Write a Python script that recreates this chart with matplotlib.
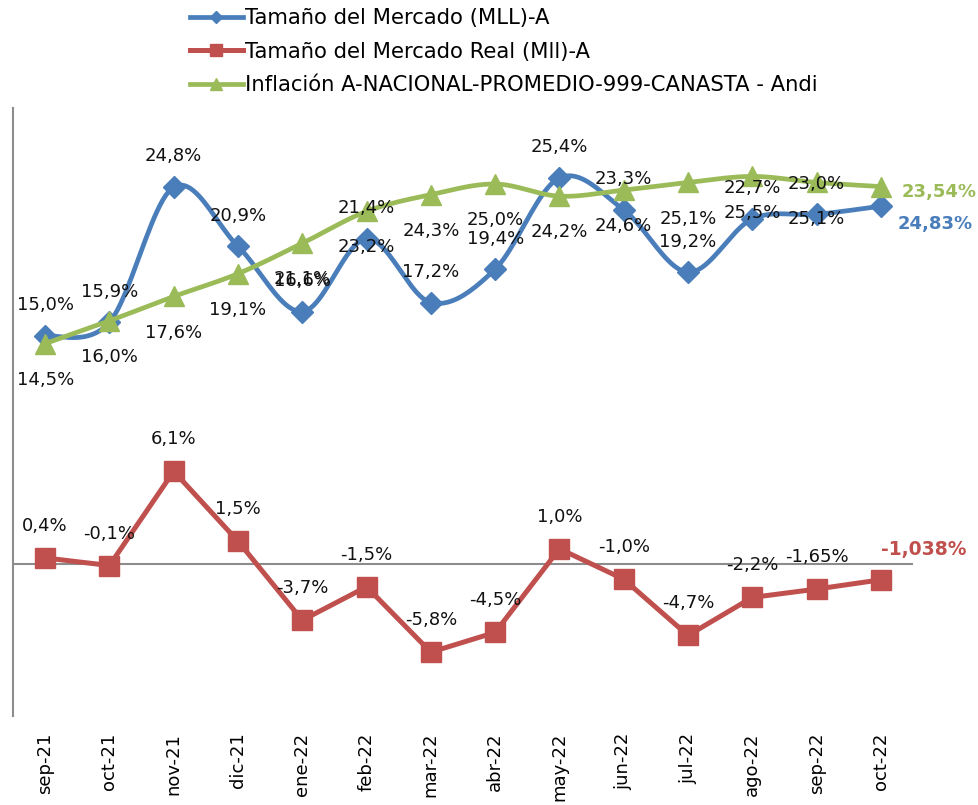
import numpy as np
import matplotlib
matplotlib.use("Agg")
import matplotlib.pyplot as plt

months = ["sep-21", "oct-21", "nov-21", "dic-21", "ene-22", "feb-22", "mar-22",
          "abr-22", "may-22", "jun-22", "jul-22", "ago-22", "sep-22", "oct-22"]

mercado = [15.0, 15.9, 24.8, 20.9, 16.6, 21.4, 17.2, 19.4, 25.4, 23.3, 19.2, 22.7, 23.0, 23.54]
real = [0.4, -0.1, 6.1, 1.5, -3.7, -1.5, -5.8, -4.5, 1.0, -1.0, -4.7, -2.2, -1.65, -1.038]
inflacion = [14.5, 16.0, 17.6, 19.1, 21.1, 23.2, 24.3, 25.0, 24.2, 24.6, 25.1, 25.5, 25.1, 24.83]

mercado_lbl = ["15,0%", "15,9%", "24,8%", "20,9%", "16,6%", "21,4%", "17,2%",
               "19,4%", "25,4%", "23,3%", "19,2%", "22,7%", "23,0%"]
real_lbl = ["0,4%", "-0,1%", "6,1%", "1,5%", "-3,7%", "-1,5%", "-5,8%",
            "-4,5%", "1,0%", "-1,0%", "-4,7%", "-2,2%", "-1,65%"]
inflacion_lbl = ["14,5%", "16,0%", "17,6%", "19,1%", "21,1%", "23,2%", "24,3%",
                 "25,0%", "24,2%", "24,6%", "25,1%", "25,5%", "25,1%"]

names = ["Tamaño del Mercado (MLL)-A", "Tamaño del Mercado Real (Mll)-A",
         "Inflación A-NACIONAL-PROMEDIO-999-CANASTA - Andi"]

BLUE = "#4A7EBB"
RED = "#C0504D"
GREEN = "#9BBB59"
GRAY = "#8C8C8C"


def smooth(x, y, n=24):
    # excel-like smoothed line (bezier through the points)
    x = np.asarray(x, float)
    y = np.asarray(y, float)
    p = np.column_stack([x, y])
    pts = []
    t = np.linspace(0, 1, n)[:, None]
    for i in range(len(p) - 1):
        p0 = p[max(i - 1, 0)]
        p1 = p[i]
        p2 = p[i + 1]
        p3 = p[min(i + 2, len(p) - 1)]
        c1 = p1 + (p2 - p0) / 6
        c2 = p2 - (p3 - p1) / 6
        seg = ((1 - t) ** 3) * p1 + 3 * ((1 - t) ** 2) * t * c1 + 3 * (1 - t) * t ** 2 * c2 + t ** 3 * p2
        pts.append(seg if i == 0 else seg[1:])
    s = np.vstack(pts)
    return s[:, 0], s[:, 1]


plt.rcParams['font.family'] = ['DejaVu Sans']

fig = plt.figure(figsize=(9.79, 8.05), dpi=100)
ax = fig.add_axes([13 / 979, 89 / 805, 900 / 979, 608 / 805])

x = np.arange(len(months))

ax.axhline(0, color=GRAY, lw=1.5, zorder=1)

sx, sy = smooth(x, mercado)
ax.plot(sx, sy, color=BLUE, lw=3.4, zorder=2, solid_capstyle='round')
ax.plot(x, mercado, ls='none', marker='D', ms=11, color=BLUE, zorder=3)

ax.plot(x, real, color=RED, lw=3.6, marker='s', ms=14, zorder=3)

sx, sy = smooth(x, inflacion)
ax.plot(sx, sy, color=GREEN, lw=3.4, zorder=4, solid_capstyle='round')
ax.plot(x, inflacion, ls='none', marker='^', ms=14, color=GREEN, zorder=5)

for i in range(len(months) - 1):
    ax.annotate(mercado_lbl[i], (x[i], mercado[i]), xytext=(0, 22), textcoords='offset points',
                ha='center', va='center', fontsize=13, color='#111111', zorder=6)
    ax.annotate(inflacion_lbl[i], (x[i], inflacion[i]), xytext=(0, -26), textcoords='offset points',
                ha='center', va='center', fontsize=13, color='#111111', zorder=6)
    ax.annotate(real_lbl[i], (x[i], real[i]), xytext=(0, 23), textcoords='offset points',
                ha='center', va='center', fontsize=13, color='#111111', zorder=6)

last = len(months) - 1
ax.annotate("23,54%", (x[last], mercado[last]), xytext=(42, 10), textcoords='offset points',
            ha='center', va='center', fontsize=13, fontweight='bold', color=GREEN)
ax.annotate("24,83%", (x[last], inflacion[last]), xytext=(39, -27), textcoords='offset points',
            ha='center', va='center', fontsize=13, fontweight='bold', color=BLUE)
ax.annotate("-1,038%", (x[last], real[last]), xytext=(31, 22), textcoords='offset points',
            ha='center', va='center', fontsize=13.5, fontweight='bold', color=RED)

ax.set_xlim(-0.5, len(months) - 0.5)
ax.set_ylim(-10, 30)
ax.set_yticks([])
ax.set_xticks(x)
ax.set_xticklabels(months, rotation=90, fontsize=13)
ax.tick_params(axis='x', length=0, pad=12)
for s in ['top', 'right', 'bottom']:
    ax.spines[s].set_visible(False)
ax.spines['left'].set_color(GRAY)
ax.spines['left'].set_linewidth(1.5)
ax.patch.set_alpha(0)

handles = [
    plt.Line2D([], [], color=BLUE, lw=3.4, marker='D', ms=6),
    plt.Line2D([], [], color=RED, lw=3.6, marker='s', ms=8),
    plt.Line2D([], [], color=GREEN, lw=3.4, marker='^', ms=8),
]
fig.legend(handles, names, loc='upper left', bbox_to_anchor=(190 / 979, 1 - 8 / 805),
           frameon=False, fontsize=15.2, handlelength=2.5, handletextpad=0.12,
           labelspacing=0.64, borderaxespad=0, borderpad=0)

fig.savefig("out.png", dpi=100)
